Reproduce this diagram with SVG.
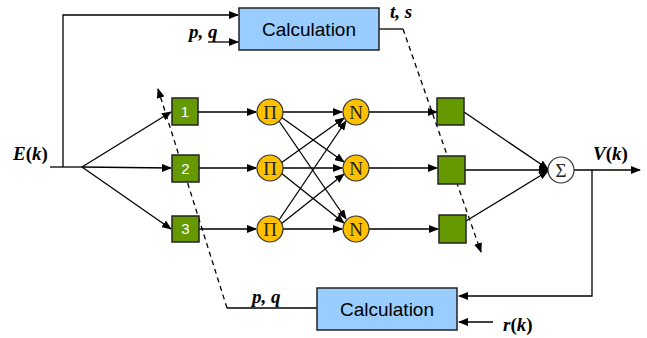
<svg xmlns="http://www.w3.org/2000/svg" width="647" height="338" viewBox="0 0 647 338">
<style>
.ln{stroke:#000;stroke-width:1.3;fill:none}
.dash{stroke:#000;stroke-width:1.3;fill:none;stroke-dasharray:5,4}
.calc{fill:#99CCFF;stroke:#222;stroke-width:1.5}
.grn{fill:#669900;stroke:#222;stroke-width:1.5}
.org{fill:#FFC000;stroke:#333;stroke-width:1.2}
.sig{fill:#fff;stroke:#333;stroke-width:1.2}
.ct{font-family:"Liberation Sans",Arial,sans-serif;font-size:19px;fill:#000;text-anchor:middle}
.num{font-family:"Liberation Sans",Arial,sans-serif;font-size:15px;fill:#fff;text-anchor:middle}
.sym{font-family:"Liberation Serif","Times New Roman",serif;font-size:19px;fill:#222;text-anchor:middle}
.lab{font-family:"Liberation Serif","Times New Roman",serif;font-size:19px;font-weight:bold;font-style:italic;fill:#000}
.up{font-style:normal}
</style>
<defs>
<marker id="ah" markerWidth="10" markerHeight="8" refX="9" refY="4" orient="auto" markerUnits="userSpaceOnUse">
<path d="M0,0 L10,4 L0,8 Z" fill="#000"/>
</marker>
</defs>
<g id="connectors">
<polyline class="ln" points="50,167 82,167"/>
<polyline class="ln" points="63,167 63,15 238,15" marker-end="url(#ah)"/>
<line class="ln" x1="208" y1="42" x2="238" y2="42" marker-end="url(#ah)"/>
<line class="ln" x1="82" y1="167" x2="171" y2="112" marker-end="url(#ah)"/>
<line class="ln" x1="82" y1="167" x2="171" y2="168" marker-end="url(#ah)"/>
<line class="ln" x1="82" y1="167" x2="171" y2="229" marker-end="url(#ah)"/>
<line class="ln" x1="198" y1="112" x2="256" y2="112" marker-end="url(#ah)"/>
<line class="ln" x1="199" y1="168" x2="256" y2="168" marker-end="url(#ah)"/>
<line class="ln" x1="199" y1="229" x2="256" y2="229" marker-end="url(#ah)"/>
<line class="ln" x1="283" y1="112" x2="342" y2="112" marker-end="url(#ah)"/>
<line class="ln" x1="281" y1="117" x2="344" y2="162" marker-end="url(#ah)"/>
<line class="ln" x1="279" y1="121" x2="346" y2="219" marker-end="url(#ah)"/>
<line class="ln" x1="281" y1="163" x2="344" y2="118" marker-end="url(#ah)"/>
<line class="ln" x1="283" y1="168" x2="342" y2="168" marker-end="url(#ah)"/>
<line class="ln" x1="281" y1="173" x2="344" y2="223" marker-end="url(#ah)"/>
<line class="ln" x1="279" y1="220" x2="346" y2="121" marker-end="url(#ah)"/>
<line class="ln" x1="281" y1="224" x2="344" y2="174" marker-end="url(#ah)"/>
<line class="ln" x1="283" y1="229" x2="342" y2="229" marker-end="url(#ah)"/>
<line class="ln" x1="369" y1="112" x2="437" y2="112" marker-end="url(#ah)"/>
<line class="ln" x1="369" y1="168" x2="437" y2="168" marker-end="url(#ah)"/>
<line class="ln" x1="369" y1="229" x2="438" y2="229" marker-end="url(#ah)"/>
<line class="ln" x1="464" y1="112" x2="548" y2="169" marker-end="url(#ah)"/>
<line class="ln" x1="465" y1="170" x2="548" y2="170" marker-end="url(#ah)"/>
<line class="ln" x1="466" y1="221" x2="548" y2="171" marker-end="url(#ah)"/>
<line class="ln" x1="574" y1="170" x2="640" y2="170" marker-end="url(#ah)"/>
<polyline class="ln" points="592,170 592,296 459,296" marker-end="url(#ah)"/>
<line class="ln" x1="493" y1="322" x2="459" y2="322" marker-end="url(#ah)"/>
<polyline class="ln" points="379,29 403,29"/>
<line class="dash" x1="403" y1="29" x2="481" y2="252" marker-end="url(#ah)"/>
<polyline class="ln" points="317,308 227,308"/>
<line class="dash" x1="227" y1="308" x2="158" y2="89" marker-end="url(#ah)"/>
</g>
<g id="calc-top"><rect class="calc" x="239" y="8" width="140" height="42"/><text class="ct" x="309" y="36">Calculation</text></g>
<g id="calc-bottom"><rect class="calc" x="317" y="288" width="140" height="42"/><text class="ct" x="387" y="316">Calculation</text></g>
<g id="box1"><rect class="grn" x="172" y="98" width="26" height="27"/><text class="num" x="185" y="117">1</text></g>
<g id="box2"><rect class="grn" x="172" y="155" width="27" height="27"/><text class="num" x="185.5" y="174">2</text></g>
<g id="box3"><rect class="grn" x="172" y="216" width="27" height="26"/><text class="num" x="185.5" y="234">3</text></g>
<g id="pi1"><circle class="org" cx="270" cy="112" r="13"/><text class="sym" x="270" y="118.5">Π</text></g>
<g id="pi2"><circle class="org" cx="270" cy="168" r="13"/><text class="sym" x="270" y="174.5">Π</text></g>
<g id="pi3"><circle class="org" cx="270" cy="229" r="13"/><text class="sym" x="270" y="235.5">Π</text></g>
<g id="n1"><circle class="org" cx="356" cy="112" r="13"/><text class="sym" x="356" y="118.5">N</text></g>
<g id="n2"><circle class="org" cx="356" cy="168" r="13"/><text class="sym" x="356" y="174.5">N</text></g>
<g id="n3"><circle class="org" cx="356" cy="229" r="13"/><text class="sym" x="356" y="235.5">N</text></g>
<g id="out1"><rect class="grn" x="437" y="98" width="27" height="27"/></g>
<g id="out2"><rect class="grn" x="438" y="156" width="27" height="28"/></g>
<g id="out3"><rect class="grn" x="439" y="215" width="27" height="28"/></g>
<g id="sum"><circle class="sig" cx="561" cy="170" r="13"/><text class="sym" x="561" y="176.5">Σ</text></g>
<g id="labels">
<text class="lab" x="13" y="160">E<tspan class="up">(</tspan>k<tspan class="up">)</tspan></text>
<text class="lab" x="189" y="38">p, q</text>
<text class="lab" x="390" y="18">t, s</text>
<text class="lab" x="593" y="160">V<tspan class="up">(</tspan>k<tspan class="up">)</tspan></text>
<text class="lab" x="252" y="303">p, q</text>
<text class="lab" x="503" y="331">r<tspan class="up">(</tspan>k<tspan class="up">)</tspan></text>
</g>
</svg>
